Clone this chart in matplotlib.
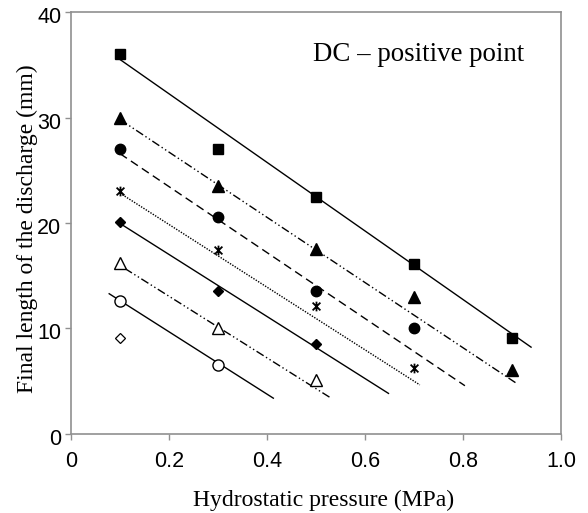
import numpy as np
import matplotlib
matplotlib.use("Agg")
import matplotlib.pyplot as plt
import matplotlib.transforms as mtransforms
from matplotlib.path import Path

# ---- data ----
pressure = [0.1, 0.3, 0.5, 0.7, 0.9]

sq_vals = [36.0, 27.0, 22.5, 16.1, 9.1]
tri_vals = [30.0, 23.5, 17.5, 13.0, 6.1]
circ_vals = [27.0, 20.6, 13.6, 10.0]
ast_vals = [23.0, 17.4, 12.1, 6.3]
dia_vals = [20.1, 13.6, 8.5]
otri_vals = [16.2, 10.0, 5.1]
ocirc_vals = [12.6, 6.5]
odia_vals = [9.1]

# trend lines: slope, intercept and x extent
trend_slope = [-32.5, -30.9, -31.25, -29.7, -29.4, -29.2, -29.55]
trend_icpt = [38.75, 32.9, 29.7, 25.8, 22.9, 18.9, 15.6]
trend_x0 = [0.1, 0.1, 0.1, 0.1, 0.1, 0.11, 0.078]
trend_x1 = [0.939, 0.908, 0.804, 0.712, 0.648, 0.528, 0.413]

x_ticks = [0, 0.2, 0.4, 0.6, 0.8, 1.0]
x_tick_labels = ["0", "0.2", "0.4", "0.6", "0.8", "1.0"]
y_ticks = [0, 10, 20, 30, 40]

# ---- styles ----
asterisk = Path([(-1, -1), (1, 1), (-1, 1), (1, -1), (0, -1.25), (0, 1.25)],
                [Path.MOVETO, Path.LINETO, Path.MOVETO, Path.LINETO, Path.MOVETO, Path.LINETO])

series = [
    (sq_vals, dict(marker="s", ms=7.5, mfc="black", mec="black")),
    (tri_vals, dict(marker="^", ms=8, mfc="black", mec="black")),
    (circ_vals, dict(marker="o", ms=7.5, mfc="black", mec="black")),
    (ast_vals, dict(marker=asterisk, ms=7, mfc="none", mec="black", mew=1.3)),
    (dia_vals, dict(marker="D", ms=5.5, mfc="black", mec="black")),
    (otri_vals, dict(marker="^", ms=8, mfc="white", mec="black", mew=1.0)),
    (ocirc_vals, dict(marker="o", ms=8, mfc="white", mec="black", mew=1.0)),
    (odia_vals, dict(marker="D", ms=5, mfc="white", mec="black", mew=0.9)),
]

line_styles = [
    "-",
    (0, (6, 2, 1, 2, 1, 2)),
    (0, (6, 3.5)),
    (0, (1, 1)),
    "-",
    (0, (6, 2, 1, 2, 1, 2)),
    "-",
]

fig = plt.figure(figsize=(5.88, 5.13), dpi=100)
ax = fig.add_axes([0.1207, 0.154, 0.8333, 0.8226])

for i in range(len(trend_slope)):
    xs = np.array([trend_x0[i], trend_x1[i]])
    ys = trend_slope[i] * xs + trend_icpt[i]
    ax.plot(xs, ys, color="black", lw=1.0, linestyle=line_styles[i], zorder=2)

for vals, st in series:
    ax.plot(pressure[:len(vals)], vals, linestyle="none", zorder=3, **st)

ax.set_xlim(0, 1.0)
ax.set_ylim(0, 40)
ax.set_xticks(x_ticks)
ax.set_xticklabels(x_tick_labels)
ax.set_yticks(y_ticks)

for sp in ax.spines.values():
    sp.set_color("#909090")
    sp.set_linewidth(1.2)
ax.tick_params(direction="out", length=4, width=1, color="#909090",
               labelsize=15.5, labelcolor="black")
ax.tick_params(axis="x", pad=8)
ax.tick_params(axis="y", pad=3)
for lab in ax.get_xticklabels() + ax.get_yticklabels():
    lab.set_family("Liberation Sans")
shift = mtransforms.ScaledTranslation(0, -3 / 100, fig.dpi_scale_trans)
for lab in ax.get_yticklabels():
    lab.set_transform(lab.get_transform() + shift)

ax.set_xlabel("Hydrostatic pressure (MPa)", family="Liberation Serif", fontsize=17)
ax.set_ylabel("Final length of the discharge (mm)", family="Liberation Serif", fontsize=17)
ax.xaxis.set_label_coords(0.516, -0.132)
ax.yaxis.set_label_coords(-0.068, 0.486)

ax.text(0.494, 0.884, "DC \u2013 positive point", transform=ax.transAxes,
        family="Liberation Serif", fontsize=19.4, va="baseline", ha="left")

fig.savefig("out.png", dpi=100)
